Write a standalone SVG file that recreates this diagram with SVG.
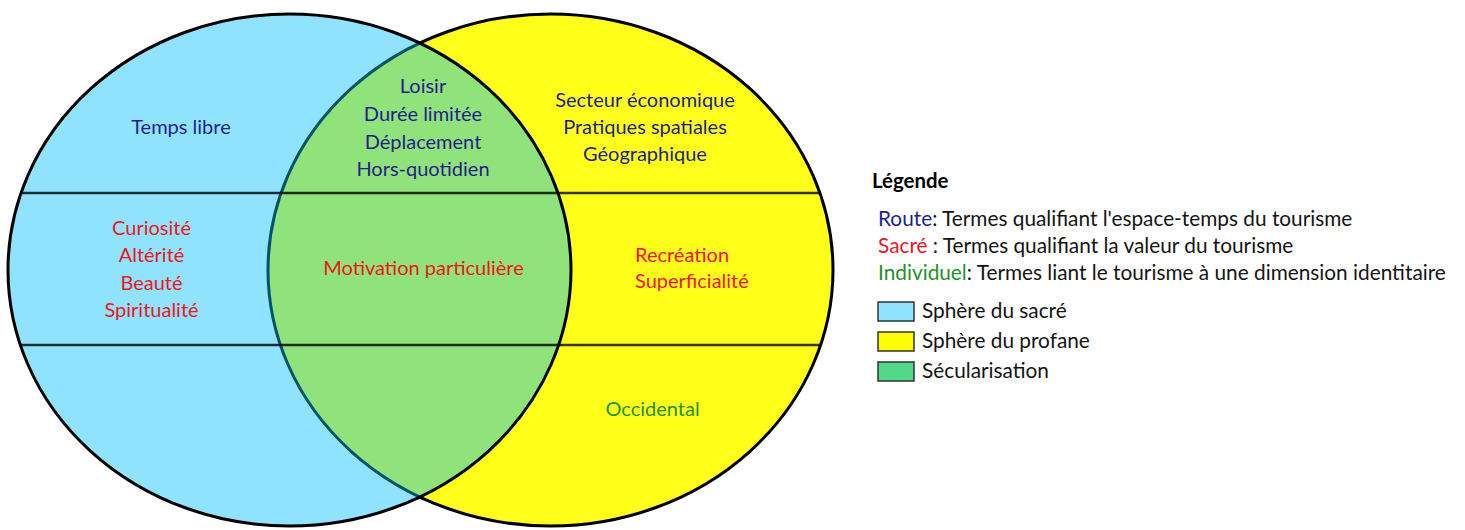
<svg xmlns="http://www.w3.org/2000/svg" width="1465" height="530" viewBox="0 0 1465 530">
  <style>
    text { font-family: Lato, "Noto Sans", "Liberation Sans", sans-serif; }
    .t { font-size: 20px; text-anchor: middle; }
    .tl { font-size: 20px; text-anchor: start; }
    .blue { fill: #1f1f8c; }
    .red { fill: #f0141e; }
    .green { fill: #23922a; }
    .lg { font-size: 20.8px; fill: #141414; }
    .ttl { font-size: 20.4px; font-weight: bold; fill: #000; }
    .box { stroke: #333; stroke-width: 1.5; }
    .divider { stroke: #000; stroke-opacity: 0.8; stroke-width: 2.5; }
  </style>
  <defs>
    <clipPath id="union">
      <ellipse cx="289.5" cy="270" rx="281.5" ry="256"/>
      <ellipse cx="550.5" cy="270" rx="282.5" ry="256"/>
    </clipPath>
  </defs>
  <rect width="1465" height="530" fill="#fff"/>

  <g id="sphere-profane">
    <ellipse cx="550.5" cy="270" rx="282.5" ry="256" fill="#ffff19" stroke="#000" stroke-width="3"/>
  </g>
  <g id="sphere-sacre">
    <ellipse cx="289.5" cy="270" rx="281.5" ry="256" fill="#00bff8" fill-opacity="0.435" stroke="#000" stroke-width="3"/>
  </g>

  <g id="dividers" clip-path="url(#union)">
    <line class="divider" x1="0" y1="193" x2="840" y2="193"/>
    <line class="divider" x1="0" y1="345" x2="840" y2="345"/>
  </g>

  <g id="sacre-haut">
    <text class="t blue" x="181" y="134">Temps libre</text>
  </g>
  <g id="sacre-milieu">
    <text class="t red" x="151.5" y="235">Curiosité</text>
    <text class="t red" x="151.5" y="262">Altérité</text>
    <text class="t red" x="151.5" y="290">Beauté</text>
    <text class="t red" x="151.5" y="317">Spiritualité</text>
  </g>
  <g id="secularisation-haut">
    <text class="t blue" x="423" y="93">Loisir</text>
    <text class="t blue" x="423" y="121">Durée limitée</text>
    <text class="t blue" x="423" y="149">Déplacement</text>
    <text class="t blue" x="423" y="176">Hors-quotidien</text>
  </g>
  <g id="secularisation-milieu">
    <text class="t red" x="423.5" y="275">Motivation particulière</text>
  </g>
  <g id="profane-haut">
    <text class="t blue" x="645" y="107">Secteur économique</text>
    <text class="t blue" x="645" y="134">Pratiques spatiales</text>
    <text class="t blue" x="645" y="161">Géographique</text>
  </g>
  <g id="profane-milieu">
    <text class="tl red" x="635" y="262">Recréation</text>
    <text class="tl red" x="635" y="288">Superficialité</text>
  </g>
  <g id="profane-bas">
    <text class="t green" x="652.5" y="416">Occidental</text>
  </g>

  <g id="legende">
    <text class="ttl" x="872" y="188">Légende</text>
    <text class="lg" x="878" y="226"><tspan class="blue">Route</tspan>: Termes qualifiant l'espace-temps du tourisme</text>
    <text class="lg" x="878" y="253"><tspan class="red">Sacré</tspan> : Termes qualifiant la valeur du tourisme</text>
    <text class="lg" x="878" y="280"><tspan class="green">Individuel</tspan>: Termes liant le tourisme à une dimension identitaire</text>
    <rect class="box" x="878" y="302" width="36" height="19" fill="#8fe3fc"/>
    <text class="lg" x="922" y="318">Sphère du sacré</text>
    <rect class="box" x="878" y="332" width="36" height="19" fill="#ffff00"/>
    <text class="lg" x="922" y="348">Sphère du profane</text>
    <rect class="box" x="878" y="362" width="36" height="19" fill="#52d88a"/>
    <text class="lg" x="922" y="378">Sécularisation</text>
  </g>
</svg>
